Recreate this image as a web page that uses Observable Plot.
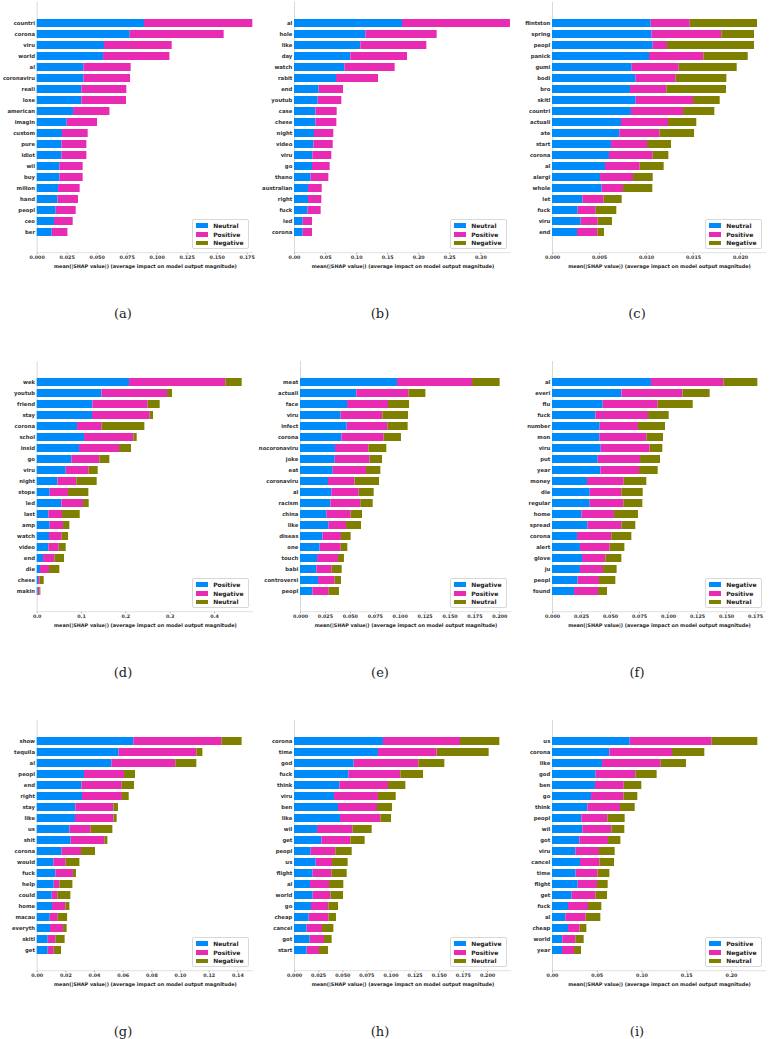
<!DOCTYPE html>
<html>
<head>
<meta charset="utf-8">
<script src="https://cdn.jsdelivr.net/npm/d3@7"></script>
<script src="https://cdn.jsdelivr.net/npm/@observablehq/plot@0.6"></script>
<style>
  body { margin: 0; background: #fff; }
  #page { position: relative; width: 770px; height: 1039px; overflow: hidden; }
  .panel { position: absolute; }
  .legend {
    position: absolute; background: #fff; border: 0.6px solid #d8d8d8; border-radius: 2px;
    padding: 1px 4px 1px 3px; font: bold 6px "DejaVu Sans", sans-serif; color: #222;
  }
  .legend .row { display: flex; align-items: center; height: 8.6px; }
  .legend .sw { width: 12px; height: 4.5px; margin-right: 5px; }
  .caption { position: absolute; transform: translate(-50%, -50%); font: 13px "DejaVu Serif", serif; color: #222; }
</style>
</head>
<body>
<div id="page"></div>
<script>
console.log("shap bar grid loaded");

// (a)
const featuresA = ["countri","corona","viru","world","al","coronaviru","reali","lose","american","imagin","custom","pure","idiot","wil","buy","milion","hand","peopl","ceo","ber"];
const neutralA  = [0.0894,0.0775,0.0561,0.0553,0.0389,0.0389,0.0372,0.0372,0.0303,0.0250,0.0211,0.0206,0.0206,0.0189,0.0189,0.0178,0.0172,0.0158,0.0144,0.0125];
const positiveA = [0.0903,0.0783,0.0564,0.0553,0.0394,0.0389,0.0375,0.0372,0.0303,0.0253,0.0214,0.0208,0.0208,0.0194,0.0194,0.0180,0.0172,0.0167,0.0156,0.0131];
const negativeA = [0,0,0,0,0,0,0,0,0,0,0,0,0,0,0,0,0,0,0,0];
const ticksA = [0,0.025,0.05,0.075,0.1,0.125,0.15,0.175];

// (b)
const featuresB = ["al","hole","like","day","watch","rabit","end","youtub","case","chese","night","video","viru","go","thano","australian","right","fuck","led","corona"];
const neutralB  = [0.1739,0.1149,0.1068,0.0907,0.0810,0.0676,0.0397,0.0381,0.0344,0.0344,0.0322,0.0311,0.0295,0.0290,0.0268,0.0225,0.0225,0.0215,0.0140,0.0140];
const positiveB = [0.1739,0.1148,0.1063,0.0913,0.0811,0.0677,0.0392,0.0381,0.0343,0.0338,0.0311,0.0312,0.0306,0.0284,0.0285,0.0221,0.0215,0.0214,0.0150,0.0150];
const negativeB = [0,0,0,0,0,0,0,0,0,0,0,0,0,0,0,0,0,0,0,0];
const ticksB = [0,0.05,0.1,0.15,0.2,0.25,0.3];

// (c)
const featuresC = ["flintston","spring","peopl","panick","gumi","bodi","bro","skitl","countri","actuali","ate","start","corona","al","alergi","whole","let","fuck","viru","end"];
const neutralC  = [0.01050,0.01057,0.01071,0.01032,0.00848,0.00887,0.00830,0.00890,0.00840,0.00734,0.00716,0.00628,0.00606,0.00564,0.00511,0.00528,0.00323,0.00273,0.00305,0.00266];
const positiveC = [0.00415,0.00744,0.00152,0.00578,0.00500,0.00429,0.00386,0.00610,0.00554,0.00500,0.00426,0.00383,0.00465,0.00369,0.00351,0.00227,0.00227,0.00192,0.00181,0.00216];
const negativeC = [0.00716,0.00348,0.00926,0.00472,0.00617,0.00539,0.00635,0.00284,0.00333,0.00301,0.00369,0.00255,0.00167,0.00255,0.00209,0.00312,0.00191,0.00219,0.00152,0.00071];
const ticksC = [0,0.005,0.01,0.015,0.02];

// (d)
const featuresD = ["wek","youtub","friend","stay","corona","schol","insid","go","viru","night","stope","led","last","amp","watch","video","end","die","chese","makin"];
const positiveD = [0.2083,0.1459,0.1256,0.1248,0.0910,0.1068,0.0955,0.0782,0.0654,0.0466,0.0293,0.0556,0.0263,0.0293,0.0278,0.0263,0.0143,0.0075,0.0030,0.0023];
const negativeD = [0.2173,0.1481,0.1248,0.1301,0.0556,0.1112,0.0902,0.0632,0.0519,0.0429,0.0414,0.0489,0.0308,0.0301,0.0286,0.0233,0.0255,0.0203,0.0038,0.0037];
const neutralD  = [0.0368,0.0113,0.0270,0.0075,0.0963,0.0076,0.0271,0.0225,0.0203,0.0458,0.0458,0.0128,0.0399,0.0143,0.0143,0.0158,0.0219,0.0233,0.0090,0.0023];
const ticksD = [0,0.1,0.2,0.3,0.4];

// (e)
const featuresE = ["meat","actuali","face","viru","infect","corona","nocoronaviru","joke","eat","coronaviru","al","racism","china","like","diseas","one","touch","babi","controversi","peopl"];
const negativeE = [0.0973,0.0565,0.0472,0.0408,0.0468,0.0415,0.0351,0.0348,0.0328,0.0281,0.0314,0.0304,0.0264,0.0284,0.0227,0.0197,0.0171,0.0164,0.0181,0.0124];
const positiveE = [0.0753,0.0525,0.0411,0.0418,0.0408,0.0424,0.0335,0.0351,0.0334,0.0267,0.0275,0.0301,0.0244,0.0178,0.0184,0.0211,0.0210,0.0154,0.0167,0.0164];
const neutralE  = [0.0277,0.0168,0.0211,0.0258,0.0204,0.0174,0.0180,0.0124,0.0144,0.0245,0.0150,0.0124,0.0114,0.0150,0.0097,0.0067,0.0060,0.0100,0.0063,0.0103];
const ticksE = [0,0.025,0.05,0.075,0.1,0.125,0.15,0.175,0.2];

// (f)
const featuresF = ["al","everi","flu","fuck","number","mon","viru","put","year","money","die","regular","home","spread","corona","alert","glove","ju","peopl","found"];
const negativeF = [0.0853,0.0598,0.0437,0.0374,0.0411,0.0408,0.0420,0.0394,0.0417,0.0302,0.0325,0.0325,0.0253,0.0305,0.0216,0.0241,0.0259,0.0241,0.0221,0.0190];
const positiveF = [0.0624,0.0526,0.0474,0.0454,0.0330,0.0405,0.0422,0.0365,0.0333,0.0316,0.0273,0.0290,0.0281,0.0293,0.0295,0.0256,0.0201,0.0199,0.0184,0.0207];
const neutralF  = [0.0293,0.0235,0.0302,0.0178,0.0233,0.0144,0.0109,0.0172,0.0161,0.0195,0.0184,0.0164,0.0207,0.0120,0.0173,0.0127,0.0138,0.0117,0.0141,0.0077];
const ticksF = [0,0.025,0.05,0.075,0.1,0.125,0.15,0.175];

// (g)
const featuresG = ["show","tequila","al","peopl","end","right","stay","like","us","shit","corona","would","fuck","help","could","home","macau","everyth","skitl","get"];
const neutralG  = [0.0674,0.0570,0.0521,0.0330,0.0312,0.0316,0.0270,0.0267,0.0228,0.0237,0.0174,0.0116,0.0130,0.0119,0.0105,0.0107,0.0091,0.0093,0.0077,0.0077];
const positiveG = [0.0617,0.0544,0.0446,0.0279,0.0281,0.0279,0.0265,0.0270,0.0149,0.0235,0.0135,0.0086,0.0123,0.0039,0.0039,0.0093,0.0056,0.0091,0.0053,0.0042];
const negativeG = [0.0139,0.0042,0.0147,0.0077,0.0086,0.0047,0.0032,0.0021,0.0151,0.0021,0.0098,0.0096,0.0021,0.0091,0.0091,0.0028,0.0065,0.0025,0.0065,0.0051];
const ticksG = [0,0.02,0.04,0.06,0.08,0.1,0.12,0.14];

// (h)
const featuresH = ["corona","time","god","fuck","think","viru","ben","like","wil","get","peopl","us","flight","al","world","go","cheap","cancel","got","start"];
const negativeH = [0.0922,0.0870,0.0618,0.0563,0.0470,0.0415,0.0456,0.0477,0.0238,0.0283,0.0173,0.0225,0.0193,0.0166,0.0193,0.0176,0.0152,0.0131,0.0162,0.0131];
const positiveH = [0.0798,0.0608,0.0670,0.0539,0.0504,0.0455,0.0404,0.0418,0.0370,0.0301,0.0255,0.0169,0.0194,0.0197,0.0184,0.0180,0.0204,0.0159,0.0149,0.0128];
const neutralH  = [0.0408,0.0539,0.0270,0.0235,0.0180,0.0184,0.0156,0.0110,0.0197,0.0148,0.0170,0.0162,0.0159,0.0148,0.0131,0.0100,0.0079,0.0118,0.0079,0.0093];
const ticksH = [0,0.025,0.05,0.075,0.1,0.125,0.15,0.175,0.2];

// (i)
const featuresI = ["us","corona","like","god","ben","go","think","peopl","wil","got","viru","cancel","time","flight","get","fuck","al","cheap","world","year"];
const positiveI = [0.0868,0.0641,0.0559,0.0488,0.0480,0.0436,0.0395,0.0328,0.0339,0.0305,0.0261,0.0313,0.0264,0.0287,0.0220,0.0179,0.0149,0.0179,0.0115,0.0112];
const negativeI = [0.0916,0.0700,0.0655,0.0443,0.0321,0.0361,0.0365,0.0290,0.0324,0.0321,0.0264,0.0216,0.0243,0.0216,0.0264,0.0223,0.0227,0.0130,0.0146,0.0134];
const neutralI  = [0.0510,0.0361,0.0283,0.0238,0.0197,0.0156,0.0164,0.0194,0.0145,0.0138,0.0175,0.0164,0.0134,0.0119,0.0131,0.0149,0.0164,0.0075,0.0093,0.0078];
const ticksI = [0,0.05,0.1,0.15,0.2];

const xLabel = "mean(|SHAP value|) (average impact on model output magnitude)";
const colors = ["#008bfb", "#e92bb4", "#808000"];

const panels = [
  {cap: "(a)", classes: ["Neutral","Positive","Negative"], features: featuresA, series: [neutralA, positiveA, negativeA], ticks: ticksA, fmt: ".3f"},
  {cap: "(b)", classes: ["Neutral","Positive","Negative"], features: featuresB, series: [neutralB, positiveB, negativeB], ticks: ticksB, fmt: ".2f"},
  {cap: "(c)", classes: ["Neutral","Positive","Negative"], features: featuresC, series: [neutralC, positiveC, negativeC], ticks: ticksC, fmt: ".3f"},
  {cap: "(d)", classes: ["Positive","Negative","Neutral"], features: featuresD, series: [positiveD, negativeD, neutralD], ticks: ticksD, fmt: ".1f"},
  {cap: "(e)", classes: ["Negative","Positive","Neutral"], features: featuresE, series: [negativeE, positiveE, neutralE], ticks: ticksE, fmt: ".3f"},
  {cap: "(f)", classes: ["Negative","Positive","Neutral"], features: featuresF, series: [negativeF, positiveF, neutralF], ticks: ticksF, fmt: ".3f"},
  {cap: "(g)", classes: ["Neutral","Positive","Negative"], features: featuresG, series: [neutralG, positiveG, negativeG], ticks: ticksG, fmt: ".2f"},
  {cap: "(h)", classes: ["Negative","Positive","Neutral"], features: featuresH, series: [negativeH, positiveH, neutralH], ticks: ticksH, fmt: ".3f"},
  {cap: "(i)", classes: ["Positive","Negative","Neutral"], features: featuresI, series: [positiveI, negativeI, neutralI], ticks: ticksI, fmt: ".2f"}
];

// layout of the grid (page pixels)
const colLeft = [0, 255, 510];
const axesRight = [253, 511, 766];
const colCenter = [123, 380, 637];
const rowTop = [0, 359, 718];
const zeroX = [36.7, 294, 552, 36.7, 300, 552, 36.7, 294, 552];
const pxPerUnit = [1200, 621, 9400, 443.3, 996.7, 1160, 1433, 965, 895];
const W = 258, H = 275, mTop = 2, frameBottom = 252.7;

const page = document.querySelector("#page");

panels.forEach((p, i) => {
  const col = i % 3, row = Math.floor(i / 3);
  const mLeft = zeroX[i] - colLeft[col];
  const mRight = colLeft[col] + W - axesRight[col];
  const xMax = (axesRight[col] - zeroX[i]) / pxPerUnit[i];

  const rows = [];
  p.classes.forEach((cls, k) => {
    p.features.forEach((f, j) => rows.push({feature: f, cls, value: p.series[k][j]}));
  });

  const chart = Plot.plot({
    width: W, height: H,
    marginLeft: mLeft, marginRight: mRight, marginTop: mTop, marginBottom: H - frameBottom,
    style: {fontFamily: "DejaVu Sans", fontWeight: "bold", background: "transparent", overflow: "visible"},
    x: {domain: [0, xMax], axis: null},
    y: {domain: p.features, paddingInner: 0.3, paddingOuter: 0.656, axis: null},
    color: {domain: p.classes, range: colors},
    marks: [
      Plot.ruleX([0], {stroke: "#cfcfcf", strokeWidth: 0.8}),
      Plot.barX(rows, {x: "value", y: "feature", fill: "cls"}),
      Plot.axisX({ticks: p.ticks, tickFormat: d3.format(p.fmt), tickSize: 1.5, tickPadding: 0.6, label: null,
                  fontSize: 4.8, fill: "#333", stroke: "#555", strokeWidth: 0.5}),
      Plot.axisY({tickSize: 0, tickPadding: 2.2, fontSize: 5.3, fill: "#333", label: null}),
      Plot.text([xLabel], {text: d => d, frameAnchor: "bottom", dy: 14.3, fontSize: 4.9, fill: "#222"})
    ]
  });

  // bottom spine
  d3.select(chart).append("line")
    .attr("x1", mLeft).attr("x2", W - mRight)
    .attr("y1", frameBottom).attr("y2", frameBottom)
    .attr("stroke", "#cfcfcf").attr("stroke-width", 0.6);

  const div = document.createElement("div");
  div.className = "panel";
  div.style.left = colLeft[col] + "px";
  div.style.top = rowTop[row] + "px";
  div.style.width = W + "px";
  div.style.height = H + "px";
  div.append(chart);

  const legend = document.createElement("div");
  legend.className = "legend";
  legend.style.right = (mRight + 4.5) + "px";
  legend.style.bottom = (H - frameBottom + 3.5) + "px";
  p.classes.forEach((cls, k) => {
    const r = document.createElement("div");
    r.className = "row";
    r.innerHTML = `<span class="sw" style="background:${colors[k]}"></span><span>${cls}</span>`;
    legend.append(r);
  });
  div.append(legend);
  page.append(div);

  const cap = document.createElement("div");
  cap.className = "caption";
  cap.style.left = colCenter[col] + "px";
  cap.style.top = (rowTop[row] + 313) + "px";
  cap.textContent = p.cap;
  page.append(cap);
});
</script>
</body>
</html>
